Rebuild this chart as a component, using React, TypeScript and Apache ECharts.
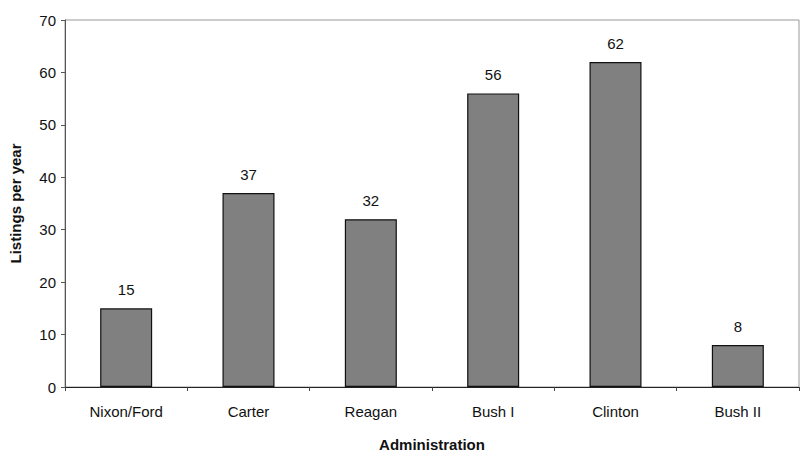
import React, { useEffect, useRef } from "react";
import * as echarts from "echarts";

const categories = ["Nixon/Ford", "Carter", "Reagan", "Bush I", "Clinton", "Bush II"];
const listingsPerYear = [15, 37, 32, 56, 62, 8];
const yTicks = { min: 0, max: 70, interval: 10 };

export default function App() {
  const ref = useRef<HTMLDivElement>(null);
  useEffect(() => {
    const chart = echarts.init(ref.current!, null, { renderer: "svg" });
    const font = "Liberation Sans, Arial, sans-serif";
    chart.setOption({
      animation: false,
      backgroundColor: "#fff",
      grid: {
        left: 64,
        right: 1,
        top: 20,
        bottom: 77,
        show: true,
        borderColor: "#999",
        borderWidth: 1,
      },
      xAxis: {
        type: "category",
        data: categories,
        name: "Administration",
        nameLocation: "middle",
        nameGap: 50,
        nameTextStyle: { fontFamily: font, fontWeight: "bold", fontSize: 15, color: "#111" },
        axisLine: { lineStyle: { color: "#222", width: 1 } },
        axisTick: { show: true, alignWithLabel: false, length: 4, lineStyle: { color: "#444" } },
        axisLabel: { fontFamily: font, fontSize: 15, color: "#111", margin: 17 },
      },
      yAxis: {
        type: "value",
        min: yTicks.min,
        max: yTicks.max,
        interval: yTicks.interval,
        name: "Listings per year",
        nameLocation: "middle",
        nameGap: 42,
        nameTextStyle: { fontFamily: font, fontWeight: "bold", fontSize: 15, color: "#111" },
        axisLine: { show: true, lineStyle: { color: "#555", width: 1 } },
        axisTick: { show: true, length: 4, lineStyle: { color: "#555" } },
        axisLabel: { fontFamily: font, fontSize: 15, color: "#111", margin: 9 },
        splitLine: { show: false },
      },
      series: [
        {
          type: "bar",
          data: listingsPerYear,
          barWidth: 52,
          itemStyle: { color: "#808080", borderColor: "#111", borderWidth: 1.2 },
          label: {
            show: true,
            position: "top",
            distance: 11,
            fontFamily: font,
            fontSize: 15,
            color: "#111",
          },
        },
      ],
    });
    return () => chart.dispose();
  }, []);
  return <div ref={ref} style={{ width: 800, height: 464, position: "absolute", left: 0, top: 0 }} />;
}
